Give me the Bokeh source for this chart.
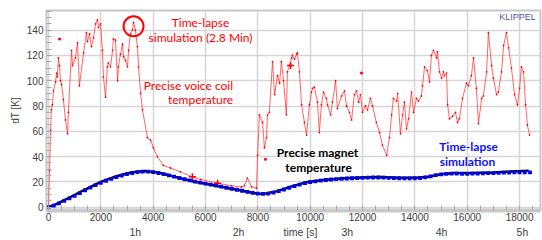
from bokeh.plotting import figure
from bokeh.models import Range1d, SingleIntervalTicker, Label, LinearAxis, FixedTicker
from bokeh.embed import file_html
from bokeh.resources import INLINE

# ---- data ----
red_t = [0, 40, 80, 110, 150, 190, 270, 310, 340, 380,
         420, 460, 500, 570, 650, 730, 760, 880, 920, 1030,
         1110, 1180, 1340, 1450, 1490, 1570, 1640, 1720, 1800, 1870,
         1910, 1990, 2060, 2100, 2180, 2250, 2290, 2370, 2450, 2480,
         2560, 2640, 2670, 2750, 2830, 2870, 2940, 3020, 3060, 3130,
         3210, 3250, 3320, 3400, 3440, 3520, 3590, 3780, 3900, 4010,
         4160, 4390, 4660, 5040, 5500, 5810, 6460, 6990, 7370, 7490,
         7600, 7760, 7950, 7990, 8060, 8180, 8250, 8330, 8370, 8440,
         8560, 8640, 8750, 8830, 8900, 8980, 9090, 9130, 9210, 9290,
         9320, 9400, 9480, 9510, 9590, 9670, 9780, 9860, 9970, 10050,
         10090, 10160, 10280, 10350, 10430, 10510, 10620, 10660, 10780, 10850,
         10970, 11040, 11200, 11310, 11390, 11500, 11580, 11690, 11770, 11850,
         11920, 12000, 12110, 12190, 12300, 12380, 12530, 12650, 12760, 12920,
         13030, 13110, 13180, 13300, 13340, 13450, 13530, 13600, 13680, 13760,
         13870, 13950, 14060, 14140, 14250, 14290, 14370, 14480, 14560, 14630,
         14710, 14830, 14860, 14940, 15020, 15090, 15130, 15210, 15250, 15320,
         15440, 15550, 15630, 15700, 15820, 15970, 16050, 16160, 16240, 16350,
         16430, 16550, 16620, 16740, 16810, 16930, 17000, 17120, 17190, 17310,
         17390, 17500, 17580, 17690, 17810, 17920, 18000, 18070, 18150, 18230,
         18300, 18380]
red_v = [0, 29, 61, 77, 81, 92, 99, 106, 103, 118,
         112, 100, 97, 85, 69, 58, 75, 124, 112, 118,
         130, 96, 122, 138, 131, 137, 127, 134, 145, 148,
         142, 145, 124, 103, 87, 111, 114, 111, 124, 133,
         132, 100, 111, 121, 129, 119, 116, 111, 124, 137,
         140, 146, 140, 127, 111, 90, 77, 55, 53, 47,
         40, 33, 31, 28, 24, 22, 19, 17, 16, 17,
         23, 16, 15, 41, 73, 67, 47, 55, 73, 75,
         115, 89, 104, 98, 115, 100, 73, 107, 112, 118,
         120, 117, 121, 122, 107, 81, 67, 57, 81, 91,
         94, 95, 83, 59, 81, 91, 86, 81, 73, 83,
         100, 78, 88, 92, 80, 75, 69, 89, 92, 83,
         89, 75, 80, 77, 86, 80, 67, 59, 49, 41,
         55, 73, 86, 84, 90, 58, 73, 83, 62, 70,
         91, 75, 86, 84, 88, 96, 111, 108, 99, 120,
         124, 118, 123, 107, 102, 107, 104, 106, 81, 70,
         72, 75, 67, 70, 86, 98, 96, 104, 118, 94,
         66, 86, 88, 107, 138, 112, 102, 89, 91, 107,
         128, 138, 126, 110, 89, 81, 94, 111, 107, 81,
         65, 57]

red_outlier_t = [420, 8290, 11960]
red_outlier_v = [133, 38, 106]
red_cross_t = [5500, 6460, 9250]
red_cross_v = [24, 19, 112]
circle_t = [3250]
circle_v = [143]

magnet_t = [0, 300, 700, 1300, 2000, 2600, 3200, 3700, 4200, 4800,
            5500, 6700, 7400, 8000, 8300, 8700, 9300, 9900, 10500, 11300,
            12000, 12700, 13400, 14100, 14500, 15000, 15500, 16200, 17000, 17700,
            18350]
magnet_v = [0, 2.5, 6.5, 13, 20, 24.5, 27.7, 28.6, 27.5, 24.2,
            20.5, 15.8, 13, 10.7, 10.8, 12.5, 16.5, 20, 21.6, 22.8,
            23.4, 23.8, 23.3, 23.2, 24, 26, 27, 27, 27.5, 28.3,
            28.8]

sim_t = list(range(0, 18401, 200))
sim_v = [0, 1.2, 3, 5, 7, 9, 11.2, 13.4, 15.5, 17.5,
         19.3, 20.9, 22.4, 23.8, 25, 26.1, 27, 27.7, 28.1, 28.1,
         27.7, 27, 26.1, 25.1, 24.1, 23.1, 22.1, 21.2, 20.3, 19.4,
         18.6, 17.8, 17, 16.2, 15.4, 14.6, 13.8, 13, 12.2, 11.4,
         10.8, 10.5, 10.7, 11.5, 12.7, 14, 15.4, 16.7, 17.9, 19,
         19.8, 20.5, 21, 21.5, 21.9, 22.2, 22.5, 22.7, 22.9, 23.1,
         23.2, 23.4, 23.5, 23.5, 23.4, 23.2, 23, 22.9, 22.8, 22.8,
         22.9, 23.1, 23.6, 24.4, 25.3, 26, 26.4, 26.5, 26.5, 26.4,
         26.4, 26.5, 26.6, 26.7, 26.9, 27, 27.1, 27.3, 27.4, 27.5,
         27.5, 27.6, 27.6]

hour_labels = ["1h", "2h", "3h", "4h", "5h"]
hour_pos = [3320, 7260, 11420, 15020, 18110]
time_label = "time [s]"
time_pos = 9630

FONT_TICK = "Liberation Sans"
FONT_ANN = "Lato"

p = figure(width=542, height=240, output_backend="svg", toolbar_location=None,
           x_range=Range1d(-76, 18800), y_range=Range1d(-2.6, 155.5),
           min_border_left=46, min_border_right=2, min_border_top=10,
           min_border_bottom=30, background_fill_color="white",
           border_fill_color="white")

p.outline_line_color = "#c8c8c8"
p.outline_line_width = 2

p.xaxis.ticker = SingleIntervalTicker(interval=2000, num_minor_ticks=4)
p.yaxis.ticker = SingleIntervalTicker(interval=20, num_minor_ticks=4)
for ax in (p.xaxis, p.yaxis):
    ax.major_tick_in = 0
    ax.major_tick_out = 0
    ax.minor_tick_out = 0
    ax.minor_tick_in = 5
    ax.minor_tick_line_color = "#a8a8a8"
    ax.major_label_text_font = FONT_TICK
    ax.major_label_text_font_size = "10px"
    ax.major_label_text_color = "#404040"
    ax.major_label_standoff = 3
p.xaxis.major_label_standoff = 2
p.xaxis.axis_line_color = "#c8c8c8"
p.xaxis.axis_line_width = 4
p.yaxis.axis_line_color = "#c8c8c8"
p.yaxis.axis_line_width = 1
p.yaxis.axis_label = "dT [K]"
p.yaxis.axis_label_text_font = FONT_TICK
p.yaxis.axis_label_text_font_style = "normal"
p.yaxis.axis_label_text_font_size = "10px"
p.yaxis.axis_label_text_color = "#404040"
p.yaxis.axis_label_standoff = 3

# second row of x labels: hours and the unit
hax = LinearAxis(ticker=FixedTicker(ticks=hour_pos + [time_pos]))
hax.major_label_overrides = dict(zip(hour_pos + [time_pos],
                                     hour_labels + [time_label]))
hax.axis_line_color = None
hax.major_tick_line_color = None
hax.minor_tick_line_color = None
hax.major_label_standoff = -4
hax.major_label_text_font = FONT_TICK
hax.major_label_text_font_size = "10.5px"
hax.major_label_text_color = "#404040"
p.add_layout(hax, "below")

p.xgrid.grid_line_color = "#d6d6d6"
p.ygrid.grid_line_color = "#d6d6d6"
p.xgrid.grid_line_width = 1.5
p.ygrid.grid_line_width = 1.5

# voice coil (red)
p.line(red_t, red_v, line_color="#ff2a2a", line_width=0.9, line_alpha=0.8)
p.scatter(red_t, red_v, size=1.8, marker="circle", fill_color="#ff0000",
          line_color=None)
p.scatter(red_outlier_t, red_outlier_v, size=3, marker="circle",
          fill_color="#ff0000", line_color=None)
p.scatter(red_cross_t, red_cross_v, size=7, marker="cross",
          line_color="#ff0000", line_width=1.5)
p.scatter(circle_t, circle_v, size=20, marker="circle", fill_color=None,
          line_color="#ff0000", line_width=2)

# magnet (black) and time-lapse simulation (blue)
p.line(magnet_t, magnet_v, line_color="black", line_width=2.5)
p.scatter(sim_t, sim_v, size=3.8, marker="square", fill_color="#0000ff",
          line_color=None)

def lab(x, y, text, color, size="12px", bold=False, font=FONT_ANN):
    p.add_layout(Label(x=x, y=y, text=text, text_color=color,
                       text_font=font, text_font_size=size,
                       text_font_style="bold" if bold else "normal",
                       text_align="center", text_baseline="middle"))

lab(5810, 146.2, "Time-lapse", "#ff0000")
lab(5810, 134.4, "simulation (2.8 Min)", "#ff0000")
lab(5350, 96.4, "Precise voice coil", "#ff0000")
lab(5810, 85.4, "temperature", "#ff0000")
lab(10280, 43.5, "Precise magnet", "black", bold=True)
lab(10320, 31.6, "temperature", "black", bold=True)
lab(16050, 48.2, "Time-lapse", "#1010ff", bold=True)
lab(16010, 36.4, "simulation", "#1010ff", bold=True)
lab(17920, 150, "KLIPPEL", "#4a5a9c", size="9px", font=FONT_TICK)

open("out.html", "w").write(file_html(p, INLINE))
